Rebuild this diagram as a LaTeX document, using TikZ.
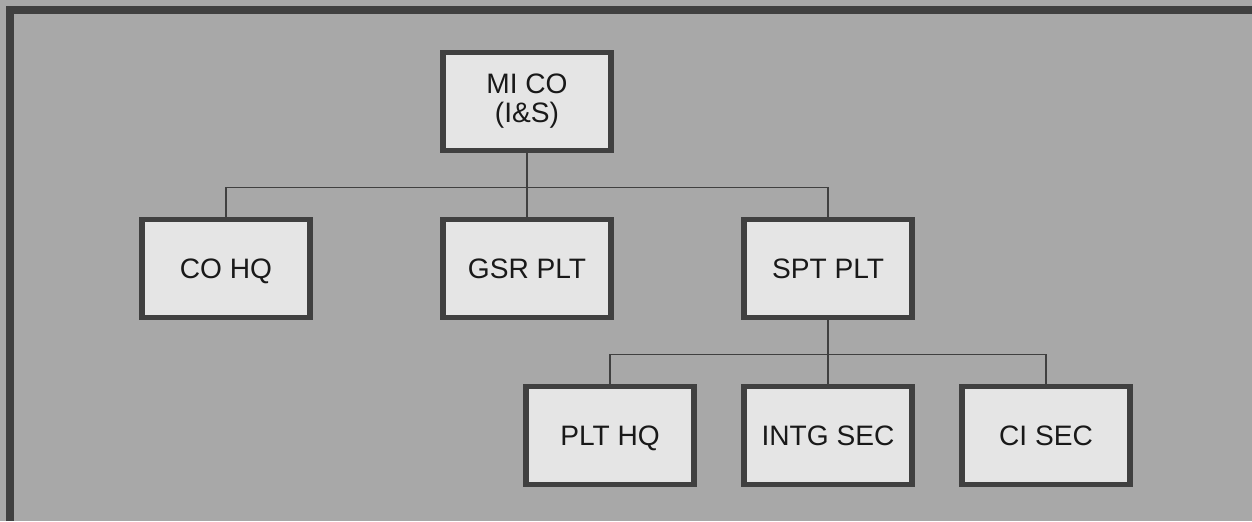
\documentclass[tikz,border=0pt]{standalone}
\usepackage{fontspec}
\setmainfont{Liberation Sans}
\usetikzlibrary{positioning}
\definecolor{paneltone}{gray}{0.66}
\definecolor{boxtone}{gray}{0.90}
\definecolor{rimtone}{gray}{0.25}
\tikzset{
    unitbox/.style={rectangle, draw=rimtone, line width=3.2pt, fill=boxtone, text=black!90,
        minimum width=3.36cm, minimum height=1.96cm, align=center,
        font=\fontsize{16}{16.5}\selectfont},
    unitline/.style={unitbox, text height=11.4pt, text depth=0pt},
    edge from parent/.style={draw=black!75, line width=0.7pt},
    edge from parent path={(\tikzparentnode.south) -- ++(0,-0.68) -| (\tikzchildnode.north)},
}

\begin{document}
\begin{tikzpicture}[level distance=3.34cm,
    level 1/.style={sibling distance=6.02cm},
    level 2/.style={sibling distance=4.36cm}]
    % panel
    \fill[paneltone] (0,0) rectangle (25.04,-10.42);
    \useasboundingbox (0,0) rectangle (25.04,-10.42);
    \draw[rimtone, line width=4pt] (0.2,-10.42) -- (0.2,-0.2) -- (25.04,-0.2);
    % chart
    \node[unitbox] (mico) at (10.54,-2.03) {MI CO\\(I\&S)}
        child { node[unitline] (cohq) {CO HQ} }
        child { node[unitline] (gsrplt) {GSR PLT} }
        child { node[unitline] (sptplt) {SPT PLT}
            child { node[unitline] (plthq) {PLT HQ} }
            child { node[unitline] (intgsec) {INTG SEC} }
            child { node[unitline] (cisec) {CI SEC} }
        };
\end{tikzpicture}
\end{document}
